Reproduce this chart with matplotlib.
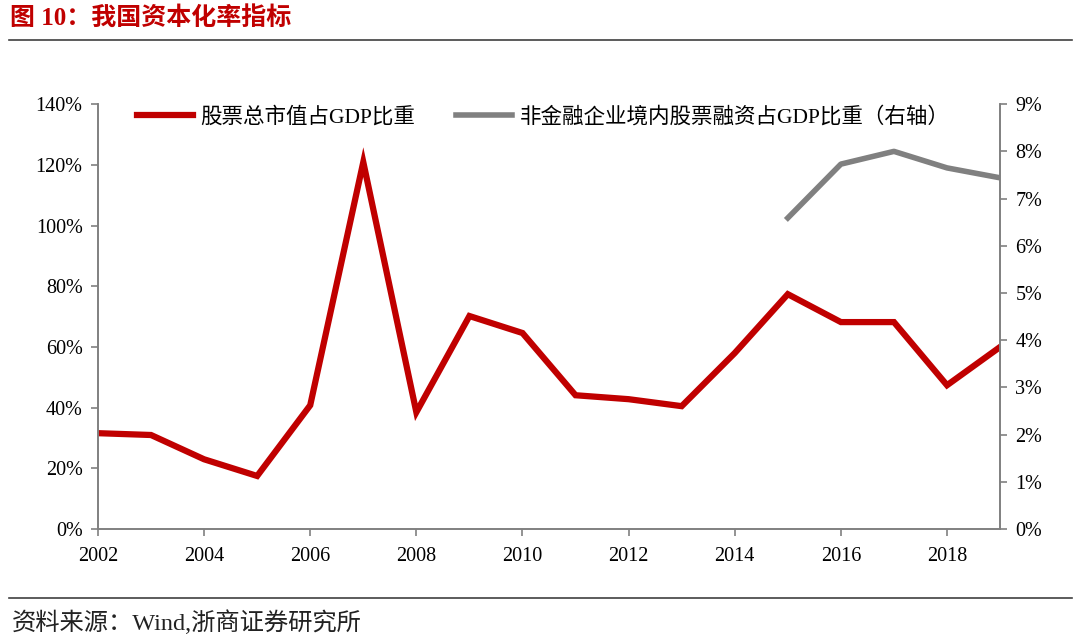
import matplotlib.pyplot as plt
from matplotlib.ticker import MultipleLocator, FuncFormatter
from matplotlib.lines import Line2D

plt.rcParams['font.family'] = ['Liberation Serif', 'Noto Sans CJK SC', 'DejaVu Sans']

years = list(range(2002, 2020))
mcap_gdp = [31.6, 31.0, 23.0, 17.5, 40.8, 120.9, 38.5, 70.2, 64.6, 44.1,
            42.8, 40.5, 58.0, 77.4, 68.2, 68.2, 47.4, 60.0]
years_fin = [2015, 2016, 2017, 2018, 2019]
equity_fin_gdp = [6.59, 7.73, 8.0, 7.65, 7.44]

red = '#C00000'
gray = '#808080'

fig = plt.figure(figsize=(10.8, 6.39), dpi=100)
ax = fig.add_axes([0.0907, 0.172, 0.8353, 0.665])
ax2 = ax.twinx()

ax.plot(years, mcap_gdp, color=red, lw=4.5, solid_joinstyle='miter')
ax2.plot(years_fin, equity_fin_gdp, color=gray, lw=4.0)

ax.set_xlim(2002, 2019)
ax.set_ylim(0, 140)
ax2.set_ylim(0, 9)
ax.xaxis.set_major_locator(MultipleLocator(2))
ax.yaxis.set_major_locator(MultipleLocator(20))
ax2.yaxis.set_major_locator(MultipleLocator(1))
ax.yaxis.set_major_formatter(FuncFormatter(lambda v, p: f'{v:.0f}%'))
ax2.yaxis.set_major_formatter(FuncFormatter(lambda v, p: f'{v:.0f}%'))

for a in (ax, ax2):
    a.spines['top'].set_visible(False)
    for s in ('left', 'right', 'bottom'):
        a.spines[s].set_color(gray)
        a.spines[s].set_linewidth(1.2)
    a.tick_params(colors=gray, labelcolor='black', labelsize=14.5,
                  length=5, width=1.2, direction='out')
ax.tick_params(axis='x', pad=8)
ax.tick_params(axis='y', pad=6)
ax2.tick_params(axis='y', pad=6)

handles = [Line2D([], [], color=red, lw=4.5), Line2D([], [], color=gray, lw=4.0)]
labels = ['股票总市值占GDP比重', '非金融企业境内股票融资占GDP比重（右轴）']
ax.legend(handles, labels, loc='upper left', bbox_to_anchor=(0.022, 1.04), ncol=2,
          frameon=False, fontsize=15.5, handlelength=2.6, handletextpad=0.35,
          columnspacing=1.9)

fig.text(0.009, 0.972, '图 10：我国资本化率指标', color=red, fontsize=18,
         fontweight='bold', va='center', ha='left')
fig.add_artist(Line2D([0.008, 0.993], [0.937, 0.937], color='#404040', lw=1.2))
fig.add_artist(Line2D([0.008, 0.993], [0.064, 0.064], color='#404040', lw=1.2))
fig.text(0.011, 0.026, '资料来源：Wind,浙商证券研究所', fontsize=17.5,
         va='center', ha='left', color='#222222')

fig.savefig('out.png', dpi=100)
